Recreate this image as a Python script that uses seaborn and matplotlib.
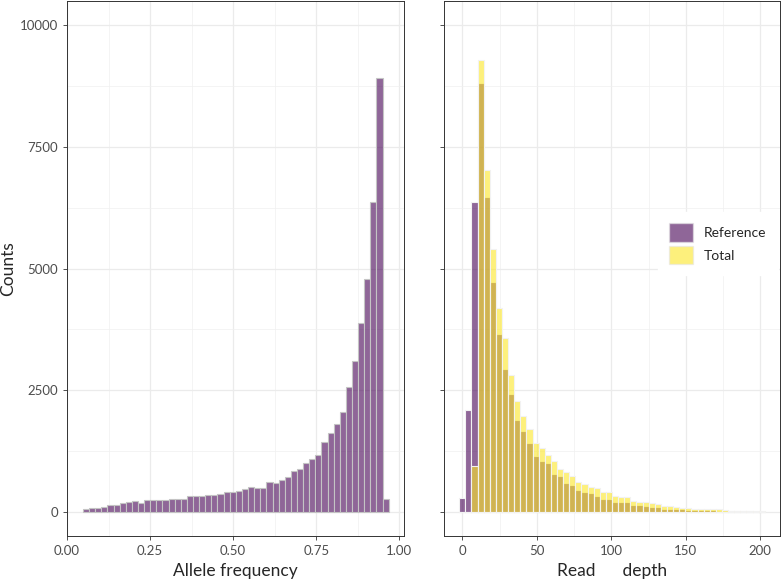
import numpy as np
import pandas as pd
import seaborn as sns
import matplotlib
matplotlib.use("Agg")
import matplotlib.pyplot as plt
from matplotlib.patches import Patch
from matplotlib.ticker import MultipleLocator

# allele frequency histogram, 50 bins
af_lo, af_hi = 0.048, 0.968
af_counts = [48, 75, 75, 89, 144, 130, 171, 199, 212, 185,
             247, 233, 233, 247, 253, 260, 260, 315, 322, 322,
             336, 336, 363, 404, 411, 415, 466, 500, 486, 486,
             616, 596, 658, 705, 829, 870, 993, 1089, 1158, 1439,
             1610, 1808, 2050, 2568, 3103, 3883, 4787, 6369, 8925, 253]

# read depth histograms, 50 bins centred on 0 .. 200.9
depth_max = 200.9
ref_depth = [281, 2089, 6370, 8816, 6460, 4726, 3651, 2932, 2411, 1884,
             1658, 1418, 1151, 1042, 1007, 775, 733, 596, 548, 445,
             411, 390, 329, 260, 256, 199, 199, 192, 137, 144,
             116, 96, 96, 62, 62, 48, 48, 34, 34, 27,
             27, 27, 20, 20, 14, 7, 7, 5, 3, 3]
tot_depth = [0, 0, 938, 9295, 7035, 5411, 4192, 3569, 2805, 2275,
             1975, 1695, 1418, 1315, 1165, 1042, 877, 822, 740, 603,
             569, 501, 480, 411, 411, 322, 295, 301, 226, 205,
             192, 178, 164, 123, 110, 96, 82, 82, 55, 48,
             48, 55, 48, 41, 20, 14, 10, 7, 7, 5]
labels = ["Reference", "Total"]

purple = "#440154"
yellow = "#FDE725"

sns.set_style("white")
plt.rcParams["font.family"] = ["Lato", "DejaVu Sans"]

af_edges = np.linspace(af_lo, af_hi, len(af_counts) + 1)
af_mid = (af_edges[:-1] + af_edges[1:]) / 2
w = depth_max / (len(ref_depth) - 1)
d_mid = np.arange(len(ref_depth)) * w
d_edges = np.append(d_mid - w / 2, d_mid[-1] + w / 2)

af_df = pd.DataFrame({"af": af_mid, "n": af_counts})
d_df = pd.DataFrame({"depth": np.concatenate([d_mid, d_mid]),
                     "n": ref_depth + tot_depth,
                     "type": [labels[0]] * len(d_mid) + [labels[1]] * len(d_mid)})

fig = plt.figure(figsize=(7.81, 5.79), dpi=100)
ax1 = fig.add_axes([67 / 781, 1 - 536 / 579, 337 / 781, 535 / 579])
ax2 = fig.add_axes([444 / 781, 1 - 536 / 579, 336 / 781, 535 / 579])

sns.histplot(data=af_df, x="af", weights="n", bins=af_edges.tolist(), ax=ax1,
             color=purple, alpha=0.6, edgecolor="#C4C4C4", linewidth=0.8)

for lab, col in zip(labels, [purple, yellow]):
    sns.histplot(data=d_df[d_df["type"] == lab], x="depth", weights="n",
                 bins=d_edges.tolist(), ax=ax2, color=col, alpha=0.6,
                 edgecolor="#F2F2F2", linewidth=0.8)

def pad(lo, hi):
    r = hi - lo
    return lo - 0.05 * r, hi + 0.05 * r

for ax in (ax1, ax2):
    ax.set_ylim(-500, 10500)
    ax.yaxis.set_major_locator(MultipleLocator(2500))
    ax.yaxis.set_minor_locator(MultipleLocator(1250))
    ax.set_axisbelow(True)
    ax.grid(which="major", color="#EBEBEB", linewidth=0.9)
    ax.grid(which="minor", color="#F0F0F0", linewidth=0.5)
    ax.tick_params(which="major", length=3, width=0.6, color="#333333",
                   labelsize=9.5, labelcolor="#4D4D4D", left=True, bottom=True)
    ax.tick_params(which="minor", length=0)
    for s in ax.spines.values():
        s.set_color("#333333")
        s.set_linewidth(0.7)

ax1.set_xlim(*pad(af_lo, af_hi))
ax1.set_xticks([0, 0.25, 0.5, 0.75, 1.0])
ax1.set_xticklabels(["0.00", "0.25", "0.50", "0.75", "1.00"])
ax1.xaxis.set_minor_locator(MultipleLocator(0.125))
ax1.set_xlabel("Allele frequency", fontsize=12.5)
ax1.set_ylabel("Counts", fontsize=12.5)
ax1.yaxis.set_label_coords(-0.15, 0.5)

ax2.set_xlim(*pad(-w / 2, depth_max + w / 2))
ax2.set_xticks([0, 50, 100, 150, 200])
ax2.xaxis.set_minor_locator(MultipleLocator(25))
ax2.set_yticklabels([])
ax2.set_xlabel("Read      depth", fontsize=12.5)
ax2.set_ylabel("")

handles = [Patch(facecolor=c, alpha=0.6, edgecolor="#E6E6E6") for c in [purple, yellow]]
ax2.legend(handles, labels, loc="center", bbox_to_anchor=(0.815, 0.546),
           frameon=True, facecolor="white", edgecolor="white", framealpha=1,
           fontsize=10, handlelength=1.7, handleheight=1.7, borderpad=0.8,
           labelspacing=0.25, handletextpad=0.8)

fig.savefig("out.png", dpi=100)
